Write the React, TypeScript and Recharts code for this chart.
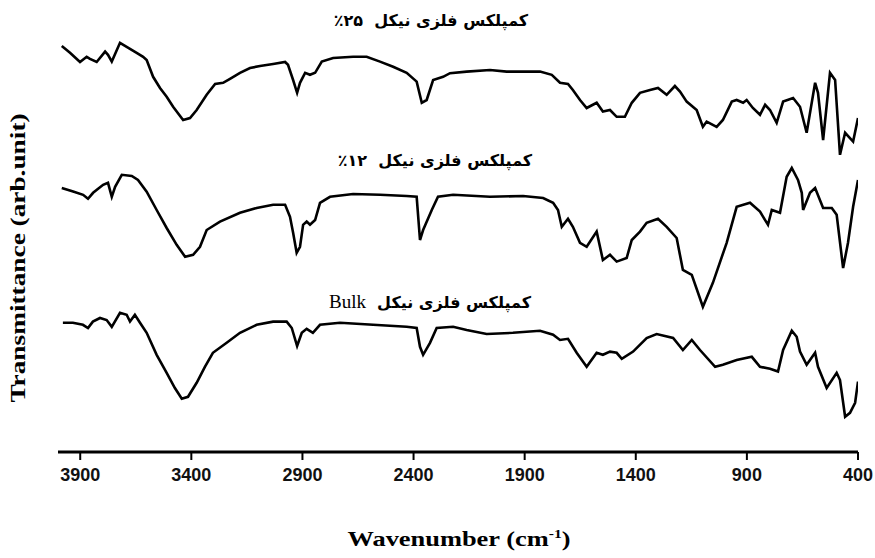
import React from "react";
import { LineChart, Line, XAxis, YAxis } from "recharts";

// FT-IR spectra, [wavenumber cm-1, transmittance arb. units]
const nickel25: [number, number][] = [
  [3983, 101.5], [3961, 100.5], [3946, 99.8], [3901, 97.5], [3871, 98.8], [3856, 98.3], [3826, 97.5],
  [3788, 100.1], [3775, 99.3], [3758, 97.6], [3721, 102.3], [3691, 101.3], [3646, 99.8], [3617, 98.8],
  [3601, 98], [3572, 93.8], [3541, 91], [3511, 88.8], [3482, 86.3], [3437, 83], [3406, 83.5], [3376, 85.5],
  [3331, 89.3], [3293, 92], [3257, 92.3], [3226, 93.3], [3181, 94.8], [3136, 96], [3091, 96.5], [3032, 97],
  [2978, 97.5], [2965, 96.8], [2942, 93], [2924, 89.8], [2911, 92.3], [2888, 94.8], [2866, 94.3], [2843, 94.8],
  [2813, 97.6], [2762, 98.5], [2672, 98.8], [2611, 98.8], [2551, 97.6], [2492, 96.3], [2431, 94.8], [2386, 92.6],
  [2363, 87.3], [2341, 88], [2312, 93], [2267, 93.8], [2236, 94.7], [2161, 95.1], [2056, 95.5], [1981, 95.1],
  [1921, 95.1], [1831, 95.1], [1778, 94.3], [1741, 92.3], [1705, 92], [1683, 90.5], [1651, 88], [1621, 86],
  [1576, 87.3], [1548, 85.1], [1516, 85.5], [1486, 83.8], [1449, 83.8], [1418, 87.3], [1381, 89.8], [1336, 90.5],
  [1300, 91], [1261, 89.3], [1224, 91.5], [1201, 90.1], [1171, 87.6], [1126, 85.5], [1098, 81.3], [1081, 82.6],
  [1036, 81.3], [1008, 83], [968, 87.6], [946, 88], [917, 87.3], [901, 88], [873, 86], [841, 84.3], [818, 86.8],
  [796, 85.5], [766, 82.3], [737, 87.6], [692, 88.5], [661, 86.3], [631, 79.8], [593, 92.3], [580, 89.8],
  [557, 78], [526, 94.8], [503, 93], [481, 74.3], [458, 79.8], [422, 77.6], [400, 83.5],
];

const nickel12: [number, number][] = [
  [3983, 66], [3932, 65.1], [3887, 64.3], [3865, 63.3], [3842, 64.8], [3797, 66.8], [3775, 67.3], [3758, 63.8],
  [3743, 66.3], [3713, 69.3], [3668, 69], [3640, 68], [3601, 65.1], [3556, 60.5], [3511, 56], [3466, 51.8],
  [3428, 48.8], [3392, 49.3], [3361, 51.3], [3331, 55.5], [3271, 57.6], [3181, 59.8], [3106, 61], [3032, 61.8],
  [2978, 61.8], [2956, 58.8], [2942, 54.8], [2926, 49.8], [2911, 51.3], [2897, 56.8], [2881, 57.6], [2866, 56.8],
  [2843, 58], [2821, 62.3], [2776, 63.8], [2672, 64.5], [2551, 64.3], [2431, 64], [2386, 63.8], [2371, 53],
  [2357, 55.5], [2318, 60.5], [2290, 63.8], [2222, 64.3], [2056, 63.8], [1907, 64], [1817, 63.5], [1772, 62.3],
  [1750, 60.5], [1733, 56.3], [1705, 58.3], [1683, 56.3], [1651, 52.3], [1621, 51.3], [1576, 55.1], [1548, 48],
  [1516, 49.3], [1486, 47.6], [1441, 48.5], [1418, 53], [1381, 55.1], [1351, 57.3], [1300, 58.3], [1261, 56.3],
  [1216, 53.5], [1188, 45.5], [1148, 44.3], [1098, 36.3], [1053, 42.3], [991, 52.3], [946, 61.3], [886, 62.3],
  [841, 60.1], [805, 56.8], [788, 60.5], [751, 59.8], [721, 68.8], [698, 71], [670, 68], [653, 64.8], [647, 60.5],
  [616, 64.8], [593, 66], [557, 61], [518, 61], [496, 59.3], [467, 46], [445, 52.3], [422, 61.3], [400, 68],
];

const nickelBulk: [number, number][] = [
  [3978, 32.3], [3933, 32.3], [3888, 31.8], [3865, 31], [3843, 32.6], [3811, 33.5], [3781, 33], [3758, 31.3],
  [3721, 34.8], [3691, 34.3], [3676, 32.6], [3654, 34.3], [3631, 32.3], [3601, 29.8], [3556, 24.3], [3511, 19.8],
  [3474, 16], [3443, 13.3], [3415, 13.8], [3376, 17.3], [3339, 21.3], [3303, 24.8], [3241, 27.3], [3181, 29.8],
  [3106, 31.8], [3032, 32.6], [2971, 32.6], [2948, 31], [2924, 26.5], [2903, 29.8], [2881, 30.8], [2853, 29.8],
  [2821, 31.8], [2731, 32.3], [2582, 31.8], [2431, 31.3], [2386, 31], [2371, 26.3], [2357, 24.3], [2326, 27.3],
  [2296, 31], [2222, 31.3], [2161, 30.5], [2071, 29.5], [1953, 29.8], [1831, 30.3], [1772, 29.3], [1741, 28],
  [1705, 28.3], [1666, 24.8], [1621, 21.3], [1576, 24.8], [1548, 24.3], [1516, 25.1], [1486, 24.8], [1463, 23.3],
  [1412, 25.1], [1351, 28.5], [1306, 29.5], [1232, 28.5], [1188, 25.5], [1148, 28], [1111, 25.5], [1043, 21.3],
  [1008, 21.8], [946, 23], [878, 23.8], [841, 21.3], [796, 20.8], [760, 20.1], [737, 25.5], [698, 30.3],
  [676, 28.8], [661, 25.1], [631, 21.8], [593, 24.8], [580, 21.3], [541, 16], [496, 19.8], [481, 18],
  [458, 8.8], [436, 9.8], [413, 12.3], [400, 17.6],
];

const xTicks = [3900, 3400, 2900, 2400, 1900, 1400, 900, 400];

const toRows = (pts: [number, number][]) => pts.map(([w, t]) => ({ w, t }));

const persian = "'DejaVu Sans', 'Noto Sans', sans-serif";
const serif = "'Liberation Serif', 'Times New Roman', serif";

function SeriesLabel({ top, center, children }: { top: number; center: number; children: React.ReactNode }) {
  return (
    <div
      dir="rtl"
      style={{
        position: "absolute",
        top,
        left: center - 150,
        width: 300,
        textAlign: "center",
        fontFamily: persian,
        fontWeight: 700,
        fontSize: 16,
        whiteSpace: "nowrap",
      }}
    >
      {children}
    </div>
  );
}

export default function App() {
  return (
    <div style={{ position: "absolute", left: 0, top: 0, width: 875, height: 558, background: "#fff" }}>
      <LineChart width={875} height={558} margin={{ top: 0, right: 17, left: 58, bottom: 0 }}>
        <XAxis
          type="number"
          dataKey="w"
          domain={[400, 4000]}
          reversed
          ticks={xTicks}
          allowDataOverflow
          height={106}
          axisLine={{ stroke: "#000", strokeWidth: 3 }}
          tickLine={{ stroke: "#000", strokeWidth: 2 }}
          tickSize={8}
          tickMargin={8}
          tick={{
            fill: "#111",
            fontSize: 18,
            fontWeight: 700,
            fontFamily: "'Liberation Sans Narrow', 'Liberation Sans', Arial, sans-serif",
          }}
        />
        <YAxis hide domain={[0, 113]} />
        <Line data={toRows(nickel25)} dataKey="t" type="linear" stroke="#000" strokeWidth={2.6} dot={false} isAnimationActive={false} />
        <Line data={toRows(nickel12)} dataKey="t" type="linear" stroke="#000" strokeWidth={2.6} dot={false} isAnimationActive={false} />
        <Line data={toRows(nickelBulk)} dataKey="t" type="linear" stroke="#000" strokeWidth={2.6} dot={false} isAnimationActive={false} />
      </LineChart>

      <SeriesLabel top={11} center={431}>کمپلکس فلزی نیکل&nbsp;&nbsp;۲۵٪</SeriesLabel>
      <SeriesLabel top={151} center={435}>کمپلکس فلزی نیکل&nbsp;&nbsp;۱۲٪</SeriesLabel>
      <SeriesLabel top={291} center={430}>
        کمپلکس فلزی نیکل&nbsp;&nbsp;
        <span style={{ fontFamily: serif, fontWeight: 400, fontSize: 19 }}>Bulk</span>
      </SeriesLabel>

      <div
        style={{
          position: "absolute",
          top: 526,
          left: 259,
          width: 400,
          textAlign: "center",
          fontFamily: serif,
          fontWeight: 700,
          fontSize: 22,
          transform: "scaleX(1.2)",
          whiteSpace: "nowrap",
        }}
      >
        Wavenumber (cm<sup style={{ fontSize: 13 }}>-1</sup>)
      </div>

      <div
        style={{
          position: "absolute",
          top: 246,
          left: 18 - 200,
          width: 400,
          textAlign: "center",
          fontFamily: serif,
          fontWeight: 700,
          fontSize: 21,
          lineHeight: "24px",
          transform: "rotate(-90deg) scaleX(1.3)",
          whiteSpace: "nowrap",
        }}
      >
        Transmittance (arb.unit)
      </div>
    </div>
  );
}
